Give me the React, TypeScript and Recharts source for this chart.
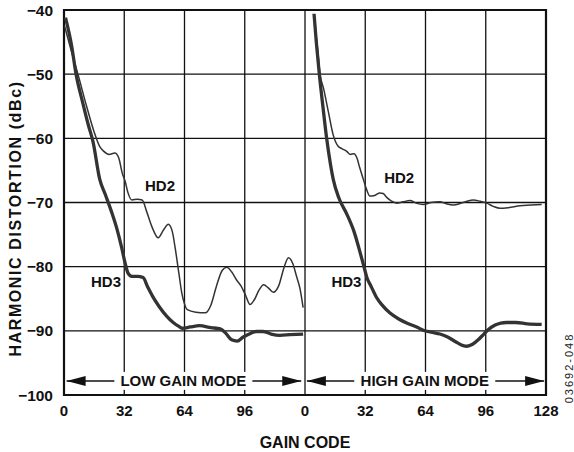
import {
  LineChart,
  Line,
  XAxis,
  YAxis,
  CartesianGrid,
  ReferenceArea,
  ReferenceLine,
  ReferenceDot,
  Label,
} from 'recharts';

// gain code axis: low gain 0..128, high gain drawn 128..256
const xTicks = [0, 32, 64, 96, 128, 160, 192, 224, 256];
const yTicks = [-100, -90, -80, -70, -60, -50, -40];
const HIGH_OFFSET = 128;

// LOW GAIN MODE
const lowHd2Code = [0.3, 4, 7.4, 12, 16, 19, 21, 24, 27, 29, 31, 32.4, 34, 36, 39, 41.5, 44, 47, 50, 53, 55.4, 57.5, 59, 61, 62.5, 64, 65.5, 70, 75, 78, 81, 84, 86.4, 89, 91.5, 94, 96.5, 98.8, 101, 103.5, 106, 108.5, 111.2, 114, 117, 119.2, 121.5, 123.5, 125.4, 127];
const lowHd2 = [-42.5, -46.5, -50, -55, -59, -61.3, -62, -62.5, -62.3, -63, -65.5, -66.6, -68.5, -69.6, -69.5, -69.6, -71.5, -74, -75.5, -74.2, -73.4, -74.5, -77, -81, -84, -85.8, -86.7, -87.1, -87.2, -86, -83, -80.6, -80.1, -80.8, -82, -83, -84.5, -85.9, -85.2, -83.7, -82.8, -83.3, -84, -83, -80, -78.6, -79.5, -81.5, -83.5, -86.4];

const lowHd3Code = [0.8, 4, 6.4, 10, 13, 15.4, 19, 22, 25.3, 28, 30.6, 32.5, 34, 36, 39, 42, 44.5, 47, 50.5, 54.5, 58, 61, 63, 67, 72, 78, 83, 86, 89, 92, 95, 99, 102, 105.7, 110, 114.7, 120, 127];
const lowHd3 = [-41.2, -45.5, -50, -54.5, -58, -60.5, -66.4, -68.8, -71.5, -74, -77, -79.5, -81, -81.5, -81.5, -81.7, -83.2, -84.6, -86.2, -87.7, -88.7, -89.3, -89.6, -89.4, -89.2, -89.5, -89.7, -90.4, -91.4, -91.6, -91, -90.4, -90.1, -90.1, -90.5, -90.7, -90.6, -90.5];

// HIGH GAIN MODE
const highHd2Code = [4.8, 6.5, 8, 10, 12.5, 15, 17.5, 19.5, 22, 24, 26, 27.5, 29, 31, 32.5, 34.5, 37, 39.8, 41.5, 43.4, 46, 48.7, 52, 55.8, 59, 62.9, 67, 71.7, 75, 78.8, 83, 86, 89.4, 93, 96.5, 100, 103.6, 108, 114.2, 120, 125.7];
const highHd2 = [-40.8, -45.5, -50, -52.4, -56, -59.5, -61.2, -61.6, -62, -62.5, -62.4, -63, -64.5, -66.4, -67.8, -69, -68.9, -68.5, -68.6, -69.2, -69.8, -70.1, -69.9, -69.7, -70.1, -70.3, -70, -69.9, -70.2, -70.4, -70.1, -69.8, -69.6, -69.8, -70.1, -70.6, -70.9, -70.8, -70.5, -70.4, -70.3];

const highHd3Code = [4.8, 6, 7.6, 9.5, 11.5, 13.5, 15, 18, 22.2, 26, 29, 31.3, 33, 35, 38, 41, 45, 50, 55, 59.3, 62.8, 67, 71.7, 76, 80, 84, 86, 89, 92, 95, 97.4, 101, 104, 107, 112, 118, 125.7];
const highHd3 = [-40.6, -45, -50, -55, -60, -64, -66.4, -69.3, -71.8, -74.5, -77.5, -80, -81.8, -83, -84.8, -86, -87.2, -88.2, -88.9, -89.4, -89.9, -90.2, -90.5, -91, -91.7, -92.3, -92.4, -92.1, -91.4, -90.5, -89.8, -89.1, -88.8, -88.7, -88.7, -88.9, -89];

const toPoints = (codes: number[], vals: number[], offset: number) =>
  codes.map((c, i) => ({ x: c + offset, v: vals[i] }));

const lowHd2Data = toPoints(lowHd2Code, lowHd2, 0);
const lowHd3Data = toPoints(lowHd3Code, lowHd3, 0);
const highHd2Data = toPoints(highHd2Code, highHd2, HIGH_OFFSET);
const highHd3Data = toPoints(highHd3Code, highHd3, HIGH_OFFSET);

const FONT = '"Liberation Sans", Arial, Helvetica, sans-serif';
const INK = '#333';
const ARROW_Y = -97.8;

const XTick = ({ x, y, payload }: any) => (
  <text x={x} y={y} dy="0.72em" textAnchor="middle" fontFamily={FONT} fontSize={15} fontWeight={700} fill="#111">
    {payload.value === 256 ? '128' : String(payload.value % 128)}
  </text>
);

const YTick = ({ x, y, payload }: any) => (
  <text x={x} y={y} dy="0.36em" textAnchor="end" fontFamily={FONT} fontSize={15.5} fontWeight={700} fill="#111">
    {`\u2212${Math.abs(payload.value)}`}
  </text>
);

const arrowLeft = (p: any) => (
  <polygon points={`${p.cx},${p.cy} ${p.cx + 19},${p.cy - 5} ${p.cx + 19},${p.cy + 5}`} fill="#111" />
);
const arrowRight = (p: any) => (
  <polygon points={`${p.cx},${p.cy} ${p.cx - 19},${p.cy - 5} ${p.cx - 19},${p.cy + 5}`} fill="#111" />
);

const modeText = (text: string, w: number) => (p: any) => (
  <g>
    <rect x={p.cx - w / 2} y={p.cy - 9} width={w} height={18} fill="#fff" />
    <text x={p.cx} y={p.cy} dy="0.36em" textAnchor="middle" fontFamily={FONT} fontSize={15} fontWeight={700} fill="#111">
      {text}
    </text>
  </g>
);

const curveLabel = (text: string) => (p: any) => (
  <text x={p.cx} y={p.cy} dy="0.36em" textAnchor="middle" fontFamily={FONT} fontSize={15} fontWeight={700} fill="#111">
    {text}
  </text>
);

const YTitle = ({ viewBox }: any) => {
  const cx = viewBox.x + 15;
  const cy = viewBox.y + viewBox.height / 2 + 16;
  return (
    <text x={cx} y={cy} dy="0.36em" transform={`rotate(-90 ${cx} ${cy})`} textAnchor="middle"
      fontFamily={FONT} fontSize={16} fontWeight={700} letterSpacing={1.6} fill="#111">
      HARMONIC DISTORTION (dBc)
    </text>
  );
};

const FigId = ({ viewBox }: any) => {
  const cx = viewBox.x + viewBox.width + 23;
  const cy = viewBox.y - 27;
  return (
    <text x={cx} y={cy} dy="0.36em" transform={`rotate(-90 ${cx} ${cy})`} textAnchor="middle"
      fontFamily={FONT} fontSize={11} letterSpacing={2} fill="#222">
      03692-048
    </text>
  );
};

export default function App() {
  return (
    <div style={{ position: 'absolute', left: 0, top: 0, fontFamily: FONT }}>
      <LineChart width={574} height={452} margin={{ top: 10, right: 28, bottom: 0, left: 0 }}>
        <CartesianGrid stroke="#111" strokeWidth={1.3} />
        <XAxis
          dataKey="x"
          type="number"
          domain={[0, 256]}
          ticks={xTicks}
          axisLine={false}
          tickLine={false}
          tickSize={0}
          tickMargin={10}
          height={57}
          tick={<XTick />}
          interval={0}
        >
          <Label value="GAIN CODE" position="insideBottom" offset={4} fill="#111" fontSize={16} fontWeight={700} fontFamily={FONT} />
          <Label content={<FigId />} />
        </XAxis>
        <YAxis
          type="number"
          domain={[-100, -40]}
          ticks={yTicks}
          axisLine={false}
          tickLine={false}
          tickSize={0}
          tickMargin={11}
          width={64}
          tick={<YTick />}
          interval={0}
        >
          <Label content={<YTitle />} />
        </YAxis>
        <ReferenceArea x1={0} x2={256} y1={-100} y2={-40} fill="none" stroke="#111" strokeWidth={2.2} />

        <Line data={lowHd2Data} dataKey="v" type="monotone" stroke={INK} strokeWidth={1.5} dot={false} isAnimationActive={false} />
        <Line data={lowHd3Data} dataKey="v" type="monotone" stroke={INK} strokeWidth={3.3} dot={false} isAnimationActive={false} />
        <Line data={highHd2Data} dataKey="v" type="monotone" stroke={INK} strokeWidth={1.5} dot={false} isAnimationActive={false} />
        <Line data={highHd3Data} dataKey="v" type="monotone" stroke={INK} strokeWidth={3.3} dot={false} isAnimationActive={false} />

        <ReferenceLine segment={[{ x: 1.4, y: ARROW_Y }, { x: 126, y: ARROW_Y }]} stroke="#111" strokeWidth={1.5} />
        <ReferenceLine segment={[{ x: 129, y: ARROW_Y }, { x: 255, y: ARROW_Y }]} stroke="#111" strokeWidth={1.5} />
        <ReferenceDot x={1.4} y={ARROW_Y} r={0} shape={arrowLeft} />
        <ReferenceDot x={126} y={ARROW_Y} r={0} shape={arrowRight} />
        <ReferenceDot x={129} y={ARROW_Y} r={0} shape={arrowLeft} />
        <ReferenceDot x={255} y={ARROW_Y} r={0} shape={arrowRight} />
        <ReferenceDot x={63.4} y={ARROW_Y} r={0} shape={modeText('LOW GAIN MODE', 138)} />
        <ReferenceDot x={191.6} y={ARROW_Y} r={0} shape={modeText('HIGH GAIN MODE', 141)} />

        <ReferenceDot x={51} y={-67.3} r={0} shape={curveLabel('HD2')} />
        <ReferenceDot x={22.3} y={-82.3} r={0} shape={curveLabel('HD3')} />
        <ReferenceDot x={178} y={-66.1} r={0} shape={curveLabel('HD2')} />
        <ReferenceDot x={150} y={-82.4} r={0} shape={curveLabel('HD3')} />
      </LineChart>
    </div>
  );
}
